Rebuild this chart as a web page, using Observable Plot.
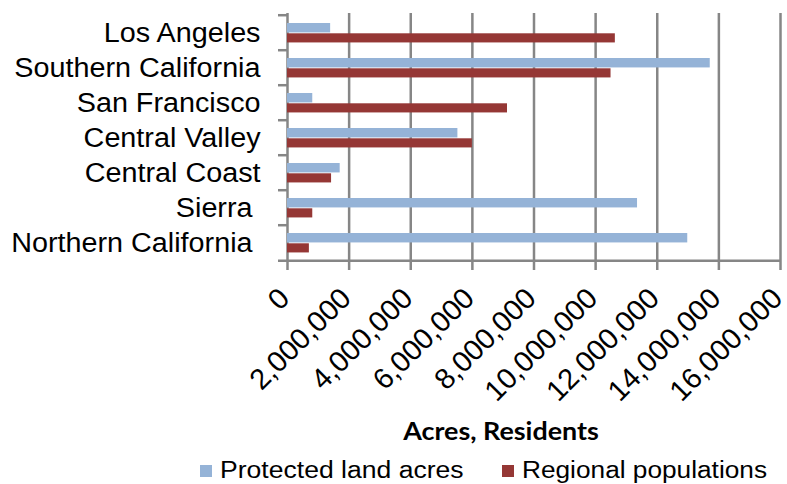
<!DOCTYPE html>
<html>
<head>
<meta charset="utf-8">
<script src="https://cdn.jsdelivr.net/npm/d3@7"></script>
<script src="https://cdn.jsdelivr.net/npm/@observablehq/plot@0.6"></script>
<style>
  body { margin: 0; background: #fff; overflow: hidden; }
  #wrap { position: relative; width: 787px; height: 484px; font-family: "Liberation Sans", Arial, sans-serif; color: #000; }
  #wrap svg { overflow: visible; }
  #wrap svg text { white-space: pre; }
  .title { position: absolute; left: 301px; width: 400px; top: 419px; text-align: center;
           font-family: Lato, sans-serif; font-weight: bold; font-size: 24px; line-height: 24px;
           transform: scaleX(1.12); transform-origin: center; }
  .sw { position: absolute; width: 12px; height: 12px; top: 465px; }
  .lt { position: absolute; top: 459px; font-size: 23.3px; line-height: 23.3px; white-space: nowrap;
        transform-origin: left center; }
</style>
</head>
<body>
<div id="wrap"></div>
<script>
// ---- data ----
const regions = ["Los Angeles", "Southern California", "San Francisco", "Central Valley", "Central Coast", "Sierra ", "Northern California "];
const protectedAcres = [1400000, 13720000, 820000, 5530000, 1710000, 11360000, 12990000];
const populations = [10640000, 10500000, 7140000, 6000000, 1430000, 820000, 710000];
const xTicks = [0, 2000000, 4000000, 6000000, 8000000, 10000000, 12000000, 14000000, 16000000];
const seriesNames = ["Protected land acres", "Regional populations"];
const seriesColors = ["#95B3D7", "#953735"];
const axisTitle = "Acres, Residents";

// ---- layout ----
const W = 787, H = 415, mt = 13, mb = 153;
const bw = (H - mt - mb) / regions.length;
const grid = "#868686";

const rows = regions.map((r, i) => ({region: r, acres: protectedAcres[i], pop: populations[i]}));

const chart = Plot.plot({
  width: W, height: H,
  marginLeft: 287, marginRight: 7, marginTop: mt, marginBottom: mb,
  style: {fontFamily: "'Liberation Sans', Arial, sans-serif", background: "white", color: "black", overflow: "visible"},
  x: {domain: [0, 16000000]},
  y: {domain: regions, padding: 0},
  marks: [
    Plot.ruleX(xTicks, {x: d => d, stroke: grid, strokeWidth: 2.5, insetBottom: -8}),
    Plot.ruleY(regions, {y: d => d, dy: -bw / 2, x1: 0, x2: 0, insetLeft: -9, stroke: grid, strokeWidth: 2.5}),
    Plot.ruleY([regions[regions.length - 1]], {y: d => d, dy: bw / 2, insetLeft: -9, stroke: grid, strokeWidth: 2.5}),
    Plot.barX(rows, {y: "region", x: "acres", fill: seriesColors[0], insetTop: 8, insetBottom: bw - 18}),
    Plot.barX(rows, {y: "region", x: "pop", fill: seriesColors[1], insetTop: 18.3, insetBottom: bw - 28}),
    Plot.axisY({tickSize: 0, tickPadding: 27, fontSize: 27, label: null}),
    Plot.axisX({ticks: xTicks, tickSize: 0, tickPadding: 31, dx: -3, tickRotate: -45, fontSize: 29, label: null,
                tickFormat: d3.format(",")})
  ]
});

const wrap = document.getElementById("wrap");
wrap.appendChild(chart);

// horizontal stretch of category labels to match reference proportions
chart.querySelectorAll('g[aria-label="y-axis tick label"] text').forEach(t => {
  const L = t.getComputedTextLength();
  t.setAttribute("textLength", (L * 1.065).toFixed(1));
  t.setAttribute("lengthAdjust", "spacingAndGlyphs");
});

// axis title
const title = document.createElement("div");
title.className = "title";
title.textContent = axisTitle;
wrap.appendChild(title);

// legend
const legLeft = [200, 502];
const legStretch = [1.14, 1.126];
seriesNames.forEach((name, i) => {
  const sw = document.createElement("div");
  sw.className = "sw";
  sw.style.left = legLeft[i] + "px";
  sw.style.background = seriesColors[i];
  wrap.appendChild(sw);
  const lt = document.createElement("div");
  lt.className = "lt";
  lt.style.left = (legLeft[i] + 19.5) + "px";
  lt.style.transform = `scaleX(${legStretch[i]})`;
  lt.textContent = name;
  wrap.appendChild(lt);
});
</script>
</body>
</html>
